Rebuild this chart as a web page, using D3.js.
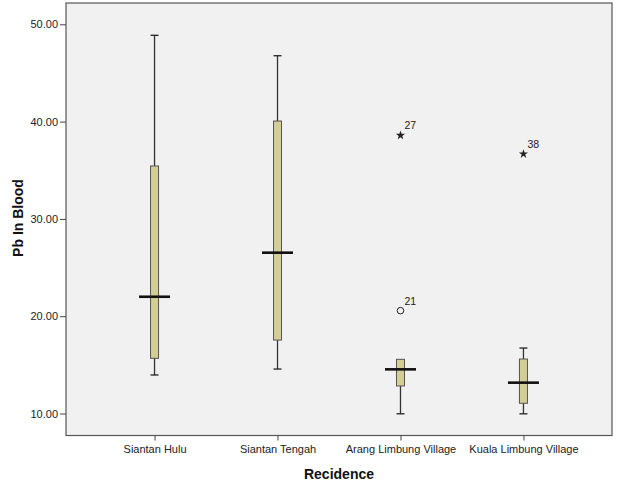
<!DOCTYPE html>
<html><head><meta charset="utf-8">
<script src="https://cdn.jsdelivr.net/npm/d3@7"></script>
<style>body{margin:0;background:#fff;}svg{display:block;font-family:"Liberation Sans",Arial,sans-serif;}</style>
</head><body><svg id="c" width="619" height="484"></svg>
<script>
const categories = ["Siantan Hulu","Siantan Tengah","Arang Limbung Village","Kuala Limbung Village"];
const whiskerLow  = [13.96, 14.57, 9.97, 9.97];
const q1          = [15.67, 17.55, 12.83, 11.05];
const medians     = [22.0, 26.53, 14.54, 13.17];
const q3          = [35.44, 40.06, 15.57, 15.6];
const whiskerHigh = [48.87, 46.77, 15.57, 16.73];
const outliers = [
  {cat: "Arang Limbung Village", value: 38.59, label: "27", type: "extreme"},
  {cat: "Arang Limbung Village", value: 20.57, label: "21", type: "outlier"},
  {cat: "Kuala Limbung Village", value: 36.67, label: "38", type: "extreme"}
];
const yTicks = [10, 20, 30, 40, 50];

const svg = d3.select("#c");
const L = 66, R = 612, T = 3, B = 435.5;
const x = d3.scalePoint().domain(categories).range([L, R]).padding(0.72);
const y = d3.scaleLinear().domain([7.74, 52.19]).range([B, T]);

svg.append("rect").attr("x", L).attr("y", T).attr("width", R - L).attr("height", B - T)
  .attr("fill", "#f0f1f0").attr("stroke", "#555").attr("stroke-width", 1.2);

const yAxis = svg.append("g").attr("transform", `translate(${L},0)`)
  .call(d3.axisLeft(y).tickValues(yTicks).tickFormat(d3.format(".2f")).tickSize(6).tickPadding(2));
yAxis.select(".domain").remove();
yAxis.selectAll("line").attr("stroke", "#444");
yAxis.selectAll("text").attr("font-size", 11).attr("fill", "#222").attr("font-family", "Liberation Sans, Arial, sans-serif");

const xAxis = svg.append("g").attr("transform", `translate(0,${B})`)
  .call(d3.axisBottom(x).tickSize(5).tickPadding(5));
xAxis.select(".domain").remove();
xAxis.selectAll("line").attr("stroke", "#444");
xAxis.selectAll("text").attr("font-size", 11).attr("fill", "#222").attr("font-family", "Liberation Sans, Arial, sans-serif");

const boxW = 8, capW = 8, medW = 31;
const g = svg.append("g");
categories.forEach((c, i) => {
  const cx = x(c);
  g.append("line").attr("x1", cx).attr("x2", cx).attr("y1", y(whiskerHigh[i])).attr("y2", y(whiskerLow[i]))
    .attr("stroke", "#333").attr("stroke-width", 1.3);
  [whiskerHigh[i], whiskerLow[i]].forEach(v => {
    if (v !== q3[i] && v !== q1[i]) {
      g.append("line").attr("x1", cx - capW/2).attr("x2", cx + capW/2).attr("y1", y(v)).attr("y2", y(v))
        .attr("stroke", "#222").attr("stroke-width", 1.3);
    }
  });
  g.append("rect").attr("x", cx - boxW/2).attr("y", y(q3[i])).attr("width", boxW).attr("height", y(q1[i]) - y(q3[i]))
    .attr("fill", "#d3cd96").attr("stroke", "#555").attr("stroke-width", 1);
  g.append("line").attr("x1", cx - medW/2).attr("x2", cx + medW/2).attr("y1", y(medians[i])).attr("y2", y(medians[i]))
    .attr("stroke", "#111").attr("stroke-width", 2.6);
});

outliers.forEach(o => {
  const cx = x(o.cat), cy = y(o.value);
  if (o.type === "outlier") {
    g.append("circle").attr("cx", cx).attr("cy", cy).attr("r", 3.3).attr("fill", "none").attr("stroke", "#222").attr("stroke-width", 1);
  } else {
    g.append("path").attr("d", d3.symbol(d3.symbolStar, 26)()).attr("transform", `translate(${cx},${cy})`).attr("fill", "#222");
  }
  g.append("text").attr("x", cx + 4).attr("y", cy - 6).attr("font-size", 10.5).attr("fill", "#222").text(o.label);
});

svg.append("text").attr("x", 339).attr("y", 479).attr("text-anchor", "middle")
  .attr("font-size", 14).attr("font-weight", "bold").attr("fill", "#111").text("Recidence");
svg.append("text").attr("transform", "translate(23,218) rotate(-90)").attr("text-anchor", "middle")
  .attr("font-size", 14).attr("font-weight", "bold").attr("fill", "#111").text("Pb In Blood");
</script></body></html>
